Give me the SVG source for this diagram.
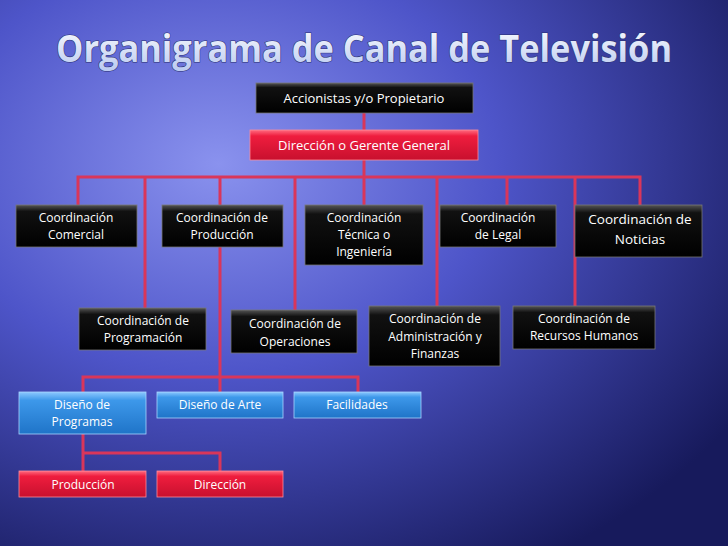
<svg xmlns="http://www.w3.org/2000/svg" width="728" height="546" viewBox="0 0 728 546">
<defs>
<radialGradient id="bg" cx="0.3" cy="0.3" r="0.85">
<stop offset="0" stop-color="#8a92ee"/><stop offset="0.45" stop-color="#4e55c9"/><stop offset="1" stop-color="#171a5c"/>
</radialGradient>
<linearGradient id="blk" x1="0" y1="0" x2="0" y2="1"><stop offset="0" stop-color="#555"/><stop offset="0.15" stop-color="#111"/><stop offset="1" stop-color="#000"/></linearGradient>
<linearGradient id="red" x1="0" y1="0" x2="0" y2="1"><stop offset="0" stop-color="#ff6b80"/><stop offset="0.2" stop-color="#ef1d3e"/><stop offset="1" stop-color="#c8102e"/></linearGradient>
<linearGradient id="blu" x1="0" y1="0" x2="0" y2="1"><stop offset="0" stop-color="#8cc8ff"/><stop offset="0.2" stop-color="#3d98ea"/><stop offset="1" stop-color="#1f74c8"/></linearGradient>
<linearGradient id="title" x1="0" y1="0" x2="0" y2="1"><stop offset="0" stop-color="#ffffff"/><stop offset="1" stop-color="#b8c8f0"/></linearGradient>
</defs>
<style>
.b{fill:url(#blk);stroke:#777;stroke-width:0.8}
.r{fill:url(#red);stroke:#ff8a9a;stroke-width:0.8}
.u{fill:url(#blu);stroke:#a8d4ff;stroke-width:0.8}
text{font-family:"Open Sans","Liberation Sans",sans-serif;fill:#fff;text-anchor:middle;font-size:12px}
.c line,.c polyline{stroke:#d9365a;stroke-width:3;fill:none}
</style>
<rect width="728" height="546" fill="url(#bg)"/>
<text x="364" y="62" style="font-size:37px;font-weight:bold;fill:url(#title);stroke:#2a2f70;stroke-width:1.2;paint-order:stroke" textLength="616" lengthAdjust="spacingAndGlyphs">Organigrama de Canal de Televisión</text>
<g class="c">
<line x1="364" y1="113" x2="364" y2="130"/>
<line x1="364" y1="160" x2="364" y2="205"/>
<polyline points="78,205 78,177 640,177 640,205"/>
<line x1="145" y1="177" x2="145" y2="308"/>
<line x1="220" y1="177" x2="220" y2="377"/>
<line x1="295" y1="177" x2="295" y2="310"/>
<line x1="437" y1="177" x2="437" y2="306"/>
<line x1="507" y1="177" x2="507" y2="205"/>
<line x1="575" y1="177" x2="575" y2="306"/>
<polyline points="83,392 83,377 358,377 358,392"/>
<line x1="220" y1="377" x2="220" y2="392"/>
<line x1="83" y1="434" x2="83" y2="471"/>
<polyline points="83,453 220,453 220,471"/>
</g>
<g id="n1"><rect class="b" x="256" y="83" width="217" height="30"/><text x="364" y="103" style="font-size:13px">Accionistas y/o Propietario</text></g>
<g id="n2"><rect class="r" x="250" y="130" width="228" height="30"/><text x="364" y="150" style="font-size:13px">Dirección o Gerente General</text></g>
<g id="n3"><rect class="b" x="16" y="205" width="121" height="42"/><text x="76" y="222">Coordinación</text><text x="76" y="239">Comercial</text></g>
<g id="n4"><rect class="b" x="162" y="205" width="121" height="42"/><text x="222" y="222">Coordinación de</text><text x="222" y="239">Producción</text></g>
<g id="n5"><rect class="b" x="305" y="205" width="118" height="60"/><text x="364" y="222">Coordinación</text><text x="364" y="239">Técnica o</text><text x="364" y="256">Ingeniería</text></g>
<g id="n6"><rect class="b" x="440" y="205" width="116" height="42"/><text x="498" y="222">Coordinación</text><text x="498" y="239">de Legal</text></g>
<g id="n7"><rect class="b" x="575" y="205" width="127" height="52"/><text x="640" y="224" style="font-size:13.5px">Coordinación de</text><text x="640" y="244" style="font-size:13.5px">Noticias</text></g>
<g id="n8"><rect class="b" x="79" y="308" width="127" height="42"/><text x="143" y="325">Coordinación de</text><text x="143" y="342">Programación</text></g>
<g id="n9"><rect class="b" x="231" y="310" width="126" height="43"/><text x="295" y="328">Coordinación de</text><text x="295" y="346">Operaciones</text></g>
<g id="n10"><rect class="b" x="369" y="306" width="131" height="60"/><text x="435" y="323">Coordinación de</text><text x="435" y="341">Administración y</text><text x="435" y="358">Finanzas</text></g>
<g id="n11"><rect class="b" x="513" y="306" width="142" height="43"/><text x="584" y="323">Coordinación de</text><text x="584" y="340">Recursos Humanos</text></g>
<g id="n12"><rect class="u" x="19" y="392" width="127" height="42"/><text x="82" y="409">Diseño de</text><text x="82" y="426">Programas</text></g>
<g id="n13"><rect class="u" x="157" y="392" width="126" height="26"/><text x="220" y="409">Diseño de Arte</text></g>
<g id="n14"><rect class="u" x="294" y="392" width="127" height="26"/><text x="357" y="409">Facilidades</text></g>
<g id="n15"><rect class="r" x="19" y="471" width="127" height="26"/><text x="83" y="489">Producción</text></g>
<g id="n16"><rect class="r" x="157" y="471" width="126" height="26"/><text x="220" y="489">Dirección</text></g>
</svg>
